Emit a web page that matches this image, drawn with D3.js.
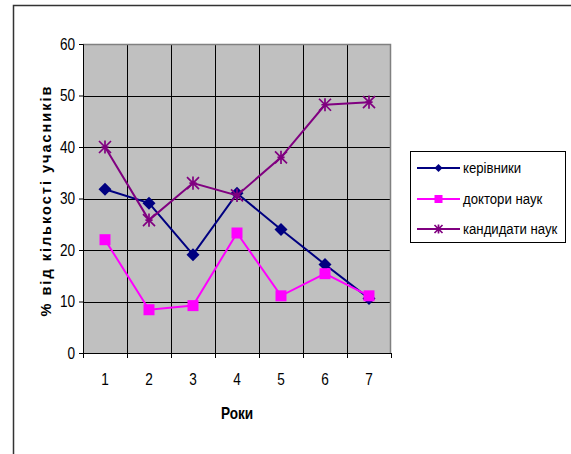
<!DOCTYPE html>
<html>
<head>
<meta charset="utf-8">
<script src="https://cdn.jsdelivr.net/npm/d3@7"></script>
<style>
  body { margin: 0; background: #fff; }
  text { font-family: "Liberation Sans", Arial, sans-serif; }
</style>
</head>
<body>
<div id="chart"></div>
<script>
const years = ["1", "2", "3", "4", "5", "6", "7"];
const kerivnyky = [31.8, 29.1, 19.1, 31, 24, 17.2, 10.6];
const doktory = [22, 8.4, 9.2, 23.3, 11.1, 15.4, 11.1];
const kandydaty = [40, 25.8, 33, 30.6, 38, 48.2, 48.7];
const yTicks = [0, 10, 20, 30, 40, 50, 60];

const series = [
    { name: "керівники", values: kerivnyky, color: "#000080", marker: "diamond" },
    { name: "доктори наук", values: doktory, color: "#FF00FF", marker: "square" },
    { name: "кандидати наук", values: kandydaty, color: "#800080", marker: "star" }
];

const W = 571, H = 454;
const plot = { left: 83, top: 44, right: 391, bottom: 353 };

const svg = d3.select("#chart").append("svg")
    .attr("width", W).attr("height", H);

// outer frame (cropped on the right and bottom)
svg.append("rect")
    .attr("x", 13.5).attr("y", 5.5)
    .attr("width", W).attr("height", H)
    .attr("fill", "none").attr("stroke", "#333").attr("stroke-width", 1.5);

const x = d3.scaleBand().domain(years).range([plot.left, plot.right]);
const y = d3.scaleLinear().domain([0, 60]).range([plot.bottom, plot.top]);

// plot background
svg.append("rect")
    .attr("x", plot.left).attr("y", plot.top)
    .attr("width", plot.right - plot.left).attr("height", plot.bottom - plot.top)
    .attr("fill", "#C0C0C0");

// horizontal grid
svg.append("g").selectAll("line").data(yTicks.slice(1))
    .join("line")
    .attr("x1", plot.left).attr("x2", plot.right)
    .attr("y1", d => Math.round(y(d)) + 0.5).attr("y2", d => Math.round(y(d)) + 0.5)
    .attr("stroke", "#000");

// vertical grid at category boundaries
svg.append("g").selectAll("line").data(years.slice(1))
    .join("line")
    .attr("x1", d => Math.round(x(d)) + 0.5).attr("x2", d => Math.round(x(d)) + 0.5)
    .attr("y1", plot.top).attr("y2", plot.bottom)
    .attr("stroke", "#000");

// plot border top/right
svg.append("path")
    .attr("d", `M${plot.left},${plot.top + 0.5}H${plot.right - 0.5}V${plot.bottom}`)
    .attr("fill", "none").attr("stroke", "#808080").attr("stroke-width", 1.5);

// y axis
const yAxis = svg.append("g")
    .attr("transform", `translate(${plot.left},0)`)
    .call(d3.axisLeft(y).tickValues(yTicks).tickSize(4).tickPadding(4));
yAxis.select(".domain").attr("stroke", "#000");
yAxis.selectAll(".tick line").attr("stroke", "#000");
yAxis.selectAll(".tick text")
    .attr("font-size", 16).attr("fill", "#000")
    .attr("font-family", "Liberation Sans, Arial, sans-serif")
    .attr("transform", "scale(0.85,1)")
    .attr("x", -8 / 0.85);

// x axis: ticks at boundaries, labels centered
const xAxisG = svg.append("g").attr("transform", `translate(0,${plot.bottom})`);
xAxisG.append("line")
    .attr("x1", plot.left).attr("x2", plot.right)
    .attr("y1", 0.5).attr("y2", 0.5).attr("stroke", "#000");
xAxisG.selectAll(".xt").data(years.concat(["end"]))
    .join("line").attr("class", "xt")
    .attr("x1", (d, i) => Math.round(plot.left + i * x.bandwidth()) + 0.5)
    .attr("x2", (d, i) => Math.round(plot.left + i * x.bandwidth()) + 0.5)
    .attr("y1", 0).attr("y2", 5).attr("stroke", "#000");
xAxisG.selectAll(".xl").data(years)
    .join("text").attr("class", "xl")
    .attr("transform", d => `translate(${x(d) + x.bandwidth() / 2},32) scale(0.85,1)`)
    .attr("text-anchor", "middle")
    .attr("font-size", 16)
    .text(d => d);

// axis titles
svg.append("text")
    .attr("transform", `translate(${(plot.left + plot.right) / 2},419) scale(0.85,1)`)
    .attr("text-anchor", "middle")
    .attr("font-size", 16).attr("font-weight", "bold")
    .text("Роки");

svg.append("text")
    .attr("transform", `translate(51,${(plot.top + plot.bottom) / 2 + 2}) rotate(-90)`)
    .attr("text-anchor", "middle")
    .attr("font-size", 14.5).attr("font-weight", "bold")
    .attr("letter-spacing", 2)
    .text("% від кількості учасників");

// markers
function drawMarker(g, type, color, s) {
    if (type === "diamond") {
        g.append("path")
            .attr("d", `M0,${-s}L${s},0L0,${s}L${-s},0Z`)
            .attr("fill", color);
    } else if (type === "square") {
        g.append("rect")
            .attr("x", -s).attr("y", -s).attr("width", 2 * s).attr("height", 2 * s)
            .attr("fill", color);
    } else {
        const r = s;
        g.append("path")
            .attr("d", `M${-r},${-r}L${r},${r}M${-r},${r}L${r},${-r}M0,${-r * 1.1}V${r * 1.1}M${-r * 0.6},0H${r * 0.6}`)
            .attr("stroke", color).attr("stroke-width", 1.7).attr("fill", "none");
    }
}

const line = d3.line()
    .x((d, i) => x(years[i]) + x.bandwidth() / 2)
    .y(d => y(d));

const markerSize = { diamond: 6.5, square: 5.5, star: 6 };

series.forEach(s => {
    svg.append("path")
        .datum(s.values)
        .attr("d", line)
        .attr("fill", "none")
        .attr("stroke", s.color)
        .attr("stroke-width", 2);
    s.values.forEach((v, i) => {
        const g = svg.append("g")
            .attr("transform", `translate(${x(years[i]) + x.bandwidth() / 2},${y(v)})`);
        drawMarker(g, s.marker, s.color, markerSize[s.marker]);
    });
});

// legend
const legend = svg.append("g");
legend.append("rect")
    .attr("x", 410.5).attr("y", 151.5)
    .attr("width", 155).attr("height", 91)
    .attr("fill", "#fff").attr("stroke", "#000");
const legY = [168, 199, 229];
series.forEach((s, i) => {
    const g = legend.append("g").attr("transform", `translate(0,${legY[i]})`);
    g.append("line")
        .attr("x1", 417).attr("x2", 460).attr("y1", 0).attr("y2", 0)
        .attr("stroke", s.color).attr("stroke-width", 2);
    drawMarker(g.append("g").attr("transform", "translate(438.5,0)"), s.marker, s.color, 4);
    g.append("text")
        .attr("transform", "translate(463,5) scale(0.85,1)")
        .attr("font-size", 15.5)
        .text(s.name);
});
</script>
</body>
</html>
